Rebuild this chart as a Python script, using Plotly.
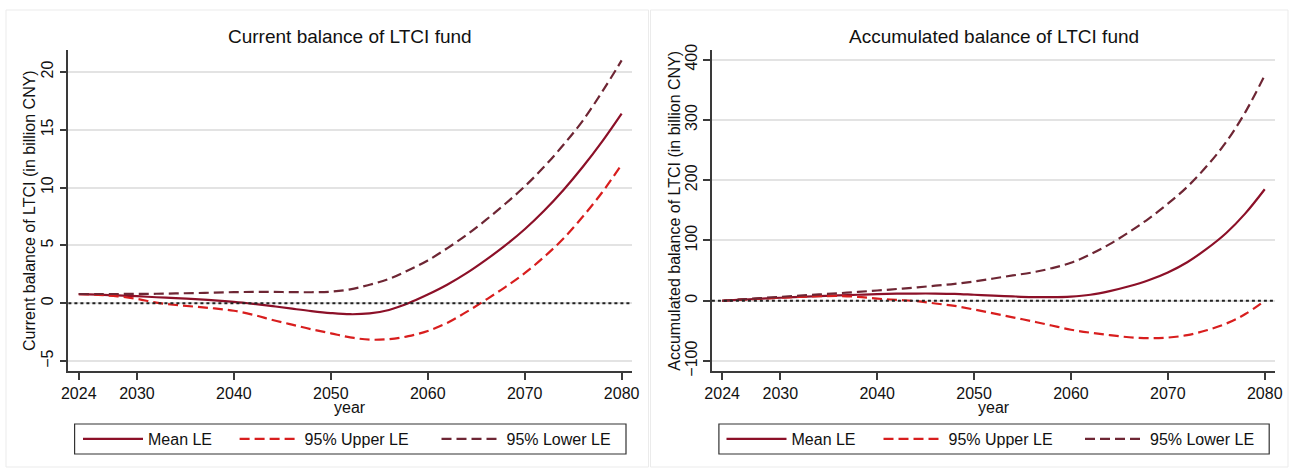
import plotly.graph_objects as go

# ---- data -------------------------------------------------------------
years = [2024, 2026, 2028, 2030, 2032, 2034, 2036, 2038, 2040, 2042,
         2044, 2046, 2048, 2050, 2052, 2054, 2056, 2058, 2060, 2062,
         2064, 2066, 2068, 2070, 2072, 2074, 2076, 2078, 2080]

# current balance of LTCI fund (billion CNY)
cur_mean = [0.78, 0.74, 0.68, 0.61, 0.52, 0.44, 0.35, 0.25, 0.12, -0.05,
            -0.25, -0.47, -0.68, -0.85, -0.95, -0.88, -0.58, 0.0, 0.75, 1.6,
            2.6, 3.75, 5.0, 6.4, 8.0, 9.8, 11.8, 14.0, 16.4]
cur_upper = [0.78, 0.72, 0.60, 0.38, 0.05, -0.15, -0.30, -0.45, -0.65, -1.0,
             -1.45, -1.85, -2.25, -2.6, -2.95, -3.15, -3.1, -2.85, -2.4, -1.7,
             -0.75, 0.3, 1.4, 2.6, 4.0, 5.6, 7.5, 9.6, 12.0]
cur_lower = [0.80, 0.80, 0.80, 0.81, 0.82, 0.85, 0.88, 0.92, 0.96, 0.98,
             0.98, 0.96, 0.95, 1.0, 1.2, 1.6, 2.1, 2.85, 3.7, 4.75,
             5.9, 7.2, 8.6, 10.1, 11.8, 13.7, 15.8, 18.3, 21.0]

# accumulated balance of LTCI fund (billion CNY)
acc_mean = [0, 1.8, 3.5, 5, 6.5, 7.8, 9, 10, 11, 11.7,
            12, 12, 11.5, 10, 8.5, 7.2, 6.2, 6, 7, 10,
            16, 24, 34, 47, 64, 86, 112, 145, 185]
acc_upper = [0, 1.8, 3.5, 5, 6.5, 7.5, 8, 6.5, 3.5, 1.5,
             -0.5, -4.5, -8.5, -14.5, -21, -27.5, -34, -41, -48, -53,
             -57, -60.5, -62, -61, -57, -49, -38, -22, 0]
acc_lower = [0, 2.3, 4.5, 6.5, 8.5, 10.5, 12.5, 14.7, 17, 19.5,
             22, 25, 28, 32, 37, 42, 47, 54, 63, 77,
             94, 114, 136, 161, 189, 223, 263, 313, 374]

x_ticks = [2024, 2030, 2040, 2050, 2060, 2070, 2080]
cur_ticks = [-5, 0, 5, 10, 15, 20]
acc_ticks = [-100, 0, 100, 200, 300, 400]

series_names = ["Mean LE", "95% Upper LE", "95% Lower LE"]

# ---- styling ----------------------------------------------------------
FONT = "Liberation Sans, Arial, sans-serif"
W, H = 1289, 469
C_MEAN = "#8c1028"
C_UPPER = "#d81e1e"
C_LOWER = "#6e2634"
AX = "#3a3a3a"

styles = [
    dict(color=C_MEAN, width=2.2, dash="solid"),
    dict(color=C_UPPER, width=2.2, dash="10px,5px"),
    dict(color=C_LOWER, width=2.2, dash="10px,5px"),
]


def px_x(p):
    return p / W


def px_y(p):
    return 1 - p / H


fig = go.Figure()

# each panel: axes, data, legend box and the left edge of each legend key
panels = [
    dict(xa="x", ya="y", data=[cur_mean, cur_upper, cur_lower],
         legends=["legend", "legend2", "legend3"],
         key_x=[83.0, 239.6, 441.5], box=(74.6, 626.0)),
    dict(xa="x2", ya="y2", data=[acc_mean, acc_upper, acc_lower],
         legends=["legend4", "legend5", "legend6"],
         key_x=[726.5, 883.5, 1085.0], box=(718.9, 1269.2)),
]

for pnl in panels:
    for name, vals, st, lg in zip(series_names, pnl["data"], styles, pnl["legends"]):
        fig.add_trace(go.Scatter(
            x=years, y=vals, name=name, mode="lines",
            line=dict(color=st["color"], width=st["width"], dash=st["dash"],
                      shape="spline", smoothing=1.0),
            xaxis=pnl["xa"], yaxis=pnl["ya"], legend=lg,
            hoverinfo="skip",
        ))

xaxis_common = dict(
    tickvals=x_ticks, showgrid=False, zeroline=False,
    showline=True, linecolor=AX, linewidth=1.5,
    ticks="outside", ticklen=7, tickwidth=1.5, tickcolor=AX,
    tickfont=dict(family=FONT, size=16, color="#111"),
)
yaxis_common = dict(
    showgrid=True, gridcolor="#e3e3e3", gridwidth=1.5, zeroline=False,
    showline=True, linecolor=AX, linewidth=1.5,
    ticks="outside", ticklen=7, tickwidth=1.5, tickcolor=AX,
    tickangle=-90,
    tickfont=dict(family=FONT, size=16, color="#111"),
)

ydom = [px_y(371), px_y(50)]

fig.update_layout(
    width=W, height=H,
    margin=dict(l=0, r=0, t=0, b=0, autoexpand=False),
    paper_bgcolor="white", plot_bgcolor="white",
    font=dict(family=FONT, size=16, color="#111"),
    xaxis=dict(domain=[px_x(68.4), px_x(632.3)], range=[2022.93, 2081.1],
               anchor="y", **xaxis_common),
    yaxis=dict(domain=ydom, range=[-5.86, 21.9], tickvals=cur_ticks,
               anchor="x", **yaxis_common),
    xaxis2=dict(domain=[px_x(711.9), px_x(1275.4)], range=[2022.94, 2081.1],
                anchor="y2", **xaxis_common),
    yaxis2=dict(domain=ydom, range=[-116.5, 416], tickvals=acc_ticks,
                anchor="x2", **yaxis_common),
    showlegend=True,
)

# one single-entry legend per key, placed along the framed legend strip
for pnl in panels:
    for lg, kx in zip(pnl["legends"], pnl["key_x"]):
        fig.update_layout({lg: dict(
            x=px_x(kx - 5), y=px_y(439), xanchor="left", yanchor="middle",
            orientation="h", bgcolor="rgba(0,0,0,0)", borderwidth=0,
            font=dict(family=FONT, size=16, color="#111"),
            itemwidth=60, itemclick=False, itemdoubleclick=False,
        )})
    bx0, bx1 = pnl["box"]
    fig.add_shape(type="rect", xref="paper", yref="paper",
                  x0=px_x(bx0), x1=px_x(bx1), y0=px_y(454), y1=px_y(424),
                  line=dict(color="#333", width=1.2), fillcolor="white",
                  layer="below")

# zero reference lines
for xa, ya in (("x", "y"), ("x2", "y2")):
    fig.add_shape(type="line", xref=f"{xa} domain", yref=ya,
                  x0=0, x1=1, y0=0, y1=0,
                  line=dict(color="#222", width=2, dash="dot"), layer="above")

# faint panel frames
for x0, x1 in ((6, 648.5), (650.5, 1288)):
    fig.add_shape(type="rect", xref="paper", yref="paper",
                  x0=px_x(x0), x1=px_x(x1), y0=px_y(467), y1=px_y(10),
                  line=dict(color="#ebebeb", width=1), layer="below")

# titles and axis labels
titles = [
    ("Current balance of LTCI fund", 350.3),
    ("Accumulated balance of LTCI fund", 993.6),
]
for text, cx in titles:
    fig.add_annotation(text=text, xref="paper", yref="paper",
                       x=px_x(cx), y=px_y(37), xanchor="center", yanchor="middle",
                       showarrow=False, font=dict(family=FONT, size=19, color="#111"))
    fig.add_annotation(text="year", xref="paper", yref="paper",
                       x=px_x(cx), y=px_y(407), xanchor="center", yanchor="middle",
                       showarrow=False, font=dict(family=FONT, size=16, color="#111"))

ytitles = [
    ("Current balance of LTCI (in billion CNY)", 29.0),
    ("Accumulated balance of LTCI (in billion CNY)", 673.7),
]
for text, cx in ytitles:
    fig.add_annotation(text=text, xref="paper", yref="paper",
                       x=px_x(cx), y=px_y(211), xanchor="center", yanchor="middle",
                       textangle=-90, showarrow=False,
                       font=dict(family=FONT, size=16, color="#111"))

fig.write_html("out.html")
